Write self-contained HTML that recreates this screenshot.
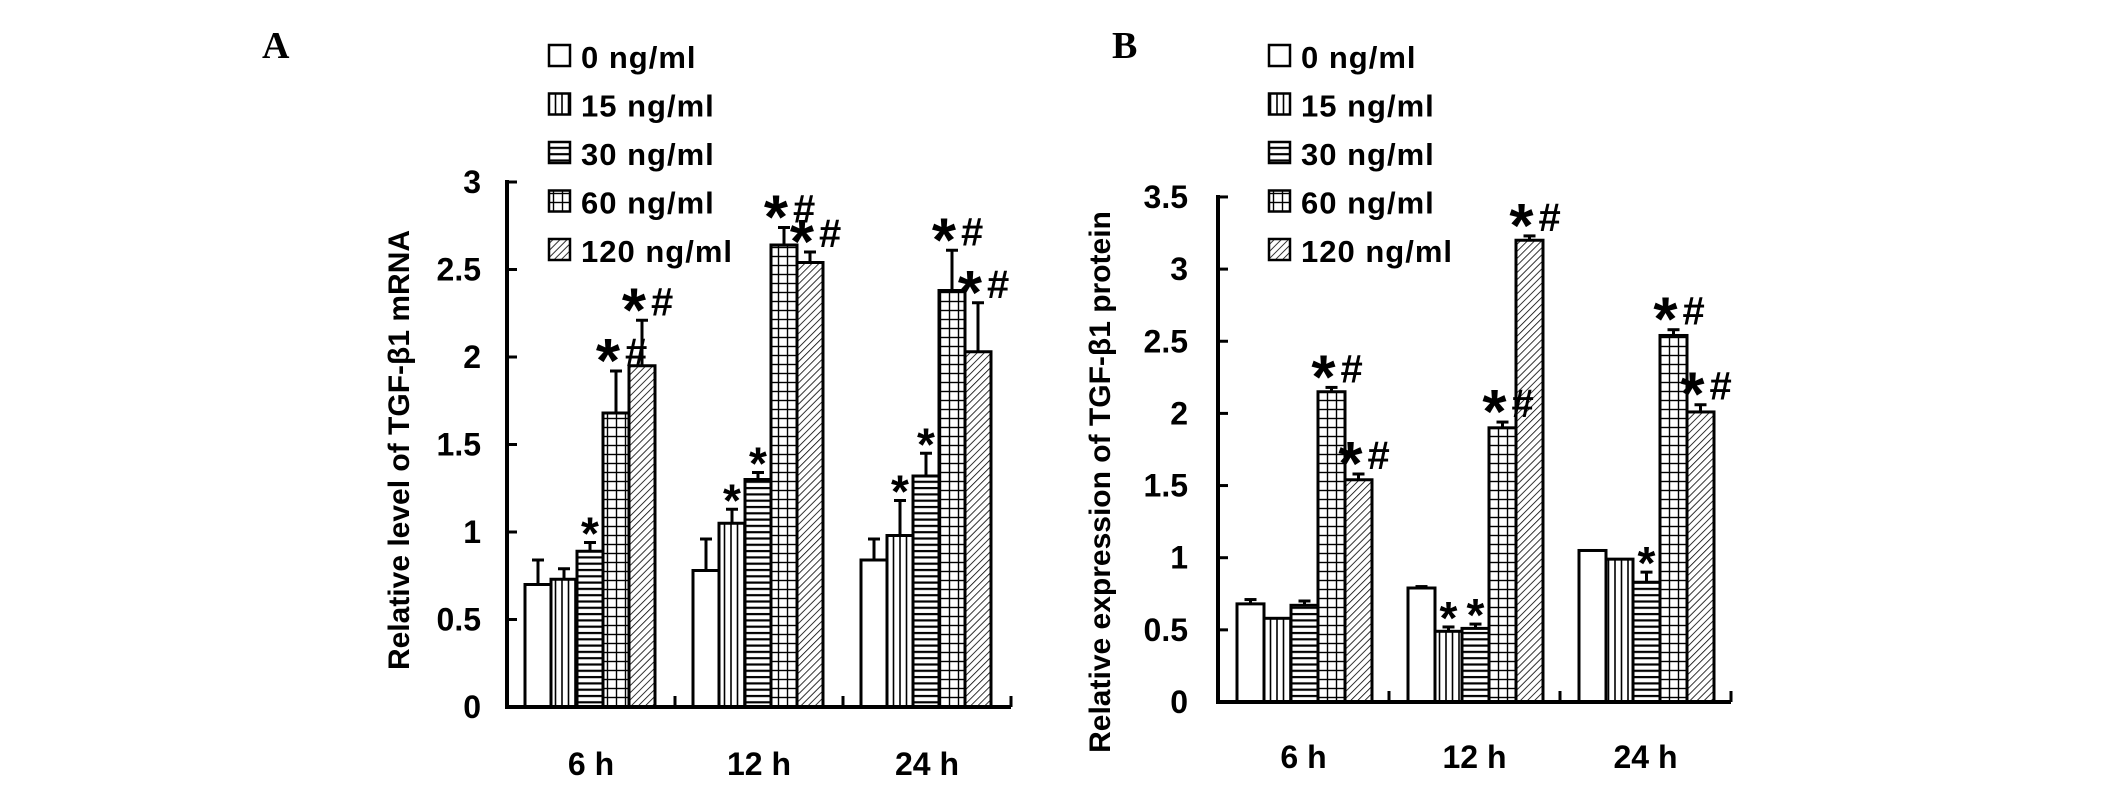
<!DOCTYPE html>
<html><head><meta charset="utf-8"><style>
body{margin:0;background:#fff}
svg{display:block}
text{font-family:"Liberation Sans",Arial,sans-serif;font-weight:bold;fill:#000}
</style></head><body>
<svg id="c" width="2126" height="810" viewBox="0 0 2126 810">
<defs>
<pattern id="p15" width="6.5" height="10" patternUnits="userSpaceOnUse"><rect width="6.5" height="10" fill="#fff"/><line x1="3" y1="0" x2="3" y2="10" stroke="#000" stroke-width="1.6"/></pattern>
<pattern id="p30" width="10" height="6.3" patternUnits="userSpaceOnUse"><rect width="10" height="6.3" fill="#fff"/><line x1="0" y1="3" x2="10" y2="3" stroke="#000" stroke-width="2.2"/></pattern>
<pattern id="p60" width="9" height="9" patternUnits="userSpaceOnUse"><rect width="9" height="9" fill="#fff"/><line x1="4.5" y1="0" x2="4.5" y2="9" stroke="#000" stroke-width="1.4"/><line x1="0" y1="4.5" x2="9" y2="4.5" stroke="#000" stroke-width="1.4"/></pattern>
<pattern id="p120" width="5" height="5" patternUnits="userSpaceOnUse" patternTransform="rotate(45)"><rect width="5" height="5" fill="#fff"/><line x1="0" y1="0" x2="0" y2="5" stroke="#000" stroke-width="1.6"/></pattern>
</defs>
</svg>
<script>
const categories=["6 h","12 h","24 h"];
const seriesNames=["0 ng/ml","15 ng/ml","30 ng/ml","60 ng/ml","120 ng/ml"];
const mrnaValues=[[0.70,0.78,0.84],[0.73,1.05,0.98],[0.89,1.30,1.32],[1.68,2.64,2.38],[1.95,2.54,2.03]];
const mrnaErrors=[[0.14,0.18,0.12],[0.06,0.08,0.20],[0.05,0.04,0.13],[0.24,0.10,0.23],[0.26,0.06,0.28]];
const mrnaMarks=[["","",""],["","*","*"],["*","*","*"],["*#","*#","*#"],["*#","*#","*#"]];
const protValues=[[0.68,0.79,1.05],[0.58,0.49,0.99],[0.67,0.51,0.83],[2.15,1.90,2.54],[1.54,3.20,2.01]];
const protErrors=[[0.03,0.01,0.0],[0.0,0.03,0.0],[0.03,0.03,0.07],[0.03,0.04,0.04],[0.04,0.03,0.05]];
const protMarks=[["","",""],["","*",""],["","*","*"],["*#","*#","*#"],["*#","*#","*#"]];
const mrnaTicks=["0","0.5","1","1.5","2","2.5","3"];
const protTicks=["0","0.5","1","1.5","2","2.5","3","3.5"];
const fills=["#fff","url(#p15)","url(#p30)","url(#p60)","url(#p120)"];
const NS="http://www.w3.org/2000/svg";
const svg=document.getElementById('c');
function mk(tag,attrs,parent,txt){const e=document.createElementNS(NS,tag);for(const k in attrs)e.setAttribute(k,attrs[k]);if(txt!==undefined)e.textContent=txt;(parent||svg).appendChild(e);return e;}

function panel(o){
  const g=mk('g',{});
  
  
  const x0=o.ax, y0=o.y0, ppu=o.ppu, pitch=o.pitch, bw=o.bw;
  const yS=v=>y0-v*ppu;
  const xCat=i=>x0+i*pitch;
  const marksLater=[];
  for(let s=0;s<o.values.length;s++){
    for(let c=0;c<categories.length;c++){
      const v=o.values[s][c], e=o.errors[s][c];
      const bx=xCat(c)+o.off+s*bw, cx=bx+bw/2;
      if(e>0){
        const l=mk('line',{x1:cx,y1:yS(v),x2:cx,y2:yS(v+e),stroke:'#000','stroke-width':3},g);
        
        
        const cap=mk('line',{x1:cx-6,y1:yS(v+e),x2:cx+6,y2:yS(v+e),stroke:'#000','stroke-width':3},g);
        
        
      }
      const r=mk('rect',{x:bx,y:yS(v),width:bw,height:v*ppu,fill:fills[s],stroke:'#000','stroke-width':3},g);
      
      
      if(o.marks[s][c]) marksLater.push([o.marks[s][c],cx,yS(v+e)-6]);
    }
  }
  marksLater.forEach(([m,cx,base])=>{
    if(m==='*'){
      const t=mk('text',{x:cx,y:base+13,'text-anchor':'middle','font-size':46},g,'*');
      
      
    }else{
      const t=mk('text',{x:cx-8,y:base+17,'text-anchor':'middle','font-size':62},g,'*');
      
      
      const h=mk('text',{x:cx+9,y:base+1,'font-size':40},g,'#');
      
      
    }
  });
  const xe=x0+pitch*categories.length;
  const ya=mk('line',{x1:x0,y1:y0+2,x2:x0,y2:yS((o.ticks.length-1)*0.5)-2,stroke:'#000','stroke-width':4},g);
  
  
  const xa=mk('line',{x1:x0-2,y1:y0,x2:xe,y2:y0,stroke:'#000','stroke-width':4},g);
  
  
  o.ticks.forEach((lab,i)=>{
    const v=i*0.5;
    const tk=mk('line',{x1:x0,y1:yS(v),x2:x0+10,y2:yS(v),stroke:'#000','stroke-width':3},g);
    
    
    const t=mk('text',{x:x0-o.tlg,y:yS(v)+11,'text-anchor':'end','font-size':32},g,lab);
    
    
  });
  for(let c=1;c<=categories.length;c++){
    const tk=mk('line',{x1:xCat(c),y1:y0,x2:xCat(c),y2:y0-11,stroke:'#000','stroke-width':3},g);
    
    
  }
  categories.forEach((lab,c)=>{
    const t=mk('text',{x:xCat(c)+pitch/2,y:o.xly,'text-anchor':'middle','font-size':32},g,lab);
    
    
  });
  const yt=mk('text',{x:0,y:0,'text-anchor':'middle','font-size':o.tfs,transform:`translate(${o.tx},${o.ty}) rotate(-90)`},g,o.title);
  
  
  seriesNames.forEach((n,s)=>{
    const ly=56+s*48.5;
    const b=mk('rect',{x:o.lx,y:ly-11,width:21,height:21,fill:fills[s],stroke:'#000','stroke-width':2.5},g);
    
    
    const t=mk('text',{x:o.lx+32,y:ly+12,'font-size':31,'letter-spacing':'1'},g,n);
    
    
  });
  const pl=mk('text',{x:o.plx,y:58,'font-size':38,style:'font-family:"Liberation Serif",serif'},g,o.label);
  
  
}
panel({name:'panel-a-mrna',ax:507,y0:707,ppu:175,pitch:168,bw:26,off:18,values:mrnaValues,errors:mrnaErrors,marks:mrnaMarks,ticks:mrnaTicks,tlg:26,xly:775,title:'Relative level of TGF-β1 mRNA',tfs:30,tx:409,ty:450,lx:549,plx:262,label:'A'});
panel({name:'panel-b-protein',ax:1218,y0:702,ppu:144.3,pitch:171,bw:27,off:19,values:protValues,errors:protErrors,marks:protMarks,ticks:protTicks,tlg:30,xly:768,title:'Relative expression of TGF-β1 protein',tfs:30,tx:1110,ty:482,lx:1269,plx:1112,label:'B'});
</script>
</body></html>
